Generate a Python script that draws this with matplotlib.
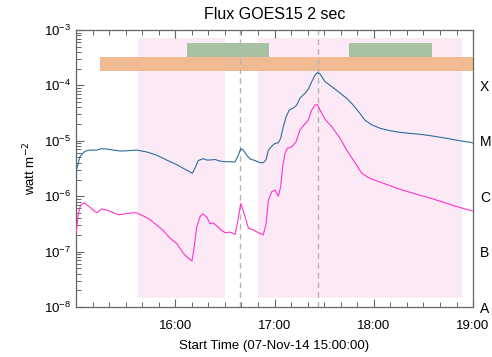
import datetime as dt
import matplotlib
matplotlib.use("Agg")
import matplotlib.pyplot as plt
import matplotlib.dates as mdates
from matplotlib.ticker import LogLocator, NullFormatter, FixedLocator

plt.rcParams['font.family'] = ['Liberation Sans', 'DejaVu Sans']

t0 = dt.datetime(2014, 11, 7, 15, 0, 0)

# 1-8 A channel (minutes after 15:00, W/m^2)
long_min = [0, 2.4, 5.4, 8.5, 12.5, 15.5, 18.6, 22.5, 26.6, 30.6, 36.7, 42.7, 48.8, 54.8, 60.9,
            65.9, 70.3, 71.9, 73.9, 77.0, 79.0, 81.0, 84.0, 87.0, 90.1, 96.1, 98.1, 99.6, 101.1,
            103.2, 105.2, 108.2, 111.2, 113.2, 114.9, 116.3, 118.3, 120.3, 122.3, 123.7, 125.3,
            127.0, 128.9, 131.4, 133.4, 135.4, 138.4, 140.4, 142.5, 144.5, 145.9, 147.5, 150.5,
            154.6, 158.6, 163.6, 167.6, 171.7, 174.7, 178.7, 183.8, 189.8, 195.9, 201.9, 208.0,
            214.0, 220.0, 226.1, 232.1, 238.2, 240]
long_flux = [2.8e-6, 5.2e-6, 6.5e-6, 6.8e-6, 6.8e-6, 7.2e-6, 7.1e-6, 6.8e-6, 6.55e-6, 6.6e-6,
             6.8e-6, 6.3e-6, 5.5e-6, 4.5e-6, 3.7e-6, 3.06e-6, 2.6e-6, 3.2e-6, 4.4e-6, 4.75e-6,
             4.5e-6, 4.5e-6, 4.6e-6, 4.3e-6, 4.2e-6, 4.15e-6, 5.5e-6, 7.2e-6, 6.8e-6, 5.5e-6,
             4.7e-6, 4.4e-6, 4.05e-6, 4.0e-6, 4.6e-6, 6.8e-6, 8.0e-6, 9.0e-6, 9.2e-6, 1.11e-5,
             1.8e-5, 2.7e-5, 3.6e-5, 3.9e-5, 4.4e-5, 5.9e-5, 7.2e-5, 8.5e-5, 1.17e-4, 1.54e-4,
             1.70e-4, 1.61e-4, 1.17e-4, 9.5e-5, 7.7e-5, 5.85e-5, 4.4e-5, 3.1e-5, 2.35e-5, 1.95e-5,
             1.68e-5, 1.52e-5, 1.42e-5, 1.36e-5, 1.31e-5, 1.24e-5, 1.16e-5, 1.08e-5, 1.0e-5,
             9.4e-6, 9.1e-6]

# 0.5-4 A channel
short_min = [0, 1.4, 2.8, 4.8, 7.4, 10.5, 12.5, 15.5, 18.6, 21.6, 25.6, 29.6, 33.7, 36.7, 40.7,
             44.7, 48.8, 52.8, 56.8, 60.9, 64.9, 67.9, 70.1, 71.3, 73.0, 75.0, 76.6, 79.0, 81.0,
             83.0, 85.1, 88.1, 90.1, 93.1, 96.1, 97.5, 99.6, 101.6, 104.2, 107.2, 110.2, 113.2,
             114.9, 116.3, 118.3, 120.3, 122.3, 123.7, 124.9, 126.3, 127.7, 130.4, 133.0, 135.4,
             137.8, 140.4, 142.5, 144.5, 145.9, 147.5, 150.5, 154.6, 159.6, 163.6, 167.6, 172.7,
             177.7, 185.8, 195.9, 206.0, 216.0, 226.1, 234.1, 240]
short_flux = [2.1e-7, 4.9e-7, 6.9e-7, 7.6e-7, 6.65e-7, 5.6e-7, 5.0e-7, 5.9e-7, 5.6e-7, 5.2e-7,
              4.6e-7, 4.8e-7, 5.0e-7, 5.0e-7, 4.4e-7, 3.8e-7, 3.0e-7, 2.4e-7, 1.75e-7, 1.4e-7,
              9.3e-8, 7.6e-8, 6.8e-8, 1.15e-7, 2.8e-7, 4.3e-7, 4.8e-7, 4.2e-7, 3.2e-7, 3.3e-7,
              2.9e-7, 2.4e-7, 2.2e-7, 2.25e-7, 2.05e-7, 3.2e-7, 7.4e-7, 4.9e-7, 2.65e-7, 2.45e-7,
              2.2e-7, 2.0e-7, 3.2e-7, 8.5e-7, 1.2e-6, 1.29e-6, 1.0e-6, 1.48e-6, 3.4e-6, 5.9e-6,
              7.3e-6, 7.8e-6, 9.6e-6, 1.57e-5, 1.93e-5, 2.37e-5, 3.6e-5, 4.4e-5, 4.5e-5, 3.6e-5,
              2.45e-5, 1.8e-5, 1.11e-5, 6.8e-6, 4.5e-6, 2.6e-6, 2.1e-6, 1.71e-6, 1.33e-6,
              1.08e-6, 8.9e-7, 7.1e-7, 6.0e-7, 5.4e-7]

# intervals (minutes after 15:00)
pink_spans = [(37.7, 90.1), (110.0, 233.5)]
green_spans = [(66.9, 116.8), (165.2, 215.4)]
orange_span = (14.5, 245)
event_lines = [99.1, 146.1]

goes_classes = ['A', 'B', 'C', 'M', 'X']
class_levels = [1e-8, 1e-7, 1e-6, 1e-5, 1e-4]


def tm(m):
    return t0 + dt.timedelta(minutes=m)


fig = plt.figure(figsize=(4.92, 3.57), dpi=100)
ax = fig.add_axes([0.1545, 0.140, 0.807, 0.776])

for a, b in pink_spans:
    ax.axvspan(tm(a), tm(b), ymin=0.034, ymax=0.972, color='#fce9f6', lw=0, zorder=0)
for a, b in green_spans:
    ax.axvspan(tm(a), tm(b), ymin=0.904, ymax=0.953, color='#a7c1a2', lw=0, zorder=1)
ax.axvspan(tm(orange_span[0]), tm(orange_span[1]), ymin=0.853, ymax=0.903,
           color='#f0bb92', lw=0, zorder=1)
for m in event_lines:
    ax.axvline(tm(m), color='#b4b4b4', ls=(0, (4, 3)), lw=1.0, zorder=2)

ax.plot([tm(m) for m in long_min], long_flux, color='#2b6e9e', lw=0.8, zorder=3)
ax.plot([tm(m) for m in short_min], short_flux, color='#ff33cc', lw=0.8, zorder=3)

ax.set_yscale('log')
ax.set_ylim(1e-8, 1e-3)
ax.set_xlim(tm(0), tm(240))

ax.set_xticks([tm(60), tm(120), tm(180), tm(240)])
ax.xaxis.set_major_formatter(mdates.DateFormatter('%H:%M'))
ax.xaxis.set_minor_locator(mdates.MinuteLocator(byminute=range(0, 60, 10)))
ax.yaxis.set_major_locator(LogLocator(base=10, numticks=10))
ax.yaxis.set_minor_locator(LogLocator(base=10, subs=range(2, 10), numticks=10))
ax.yaxis.set_minor_formatter(NullFormatter())

ax.tick_params(which='both', direction='in', top=True, right=True, colors='#666666',
               labelcolor='black', labelsize=9.5)
ax.tick_params(axis='x', which='major', pad=9)
ax.tick_params(which='major', length=6, width=0.8)
ax.tick_params(which='minor', length=3.5, width=0.7)
for s in ax.spines.values():
    s.set_color('#666666')
    s.set_linewidth(0.9)

ax2 = ax.twinx()
ax2.set_yscale('log')
ax2.set_ylim(1e-8, 1e-3)
ax2.yaxis.set_major_locator(FixedLocator(class_levels))
ax2.set_yticklabels(goes_classes)
ax2.yaxis.set_minor_locator(FixedLocator([]))
ax2.tick_params(which='both', length=0, labelsize=10, pad=5)
for s in ax2.spines.values():
    s.set_visible(False)

ax.set_title('Flux GOES15 2 sec', fontsize=11.5, pad=8)
ax.set_xlabel('Start Time (07-Nov-14 15:00:00)', fontsize=9.5, labelpad=6)
ax.set_ylabel('watt m$^{-2}$', fontsize=9.5, labelpad=4)

fig.savefig('out.png', dpi=100)
